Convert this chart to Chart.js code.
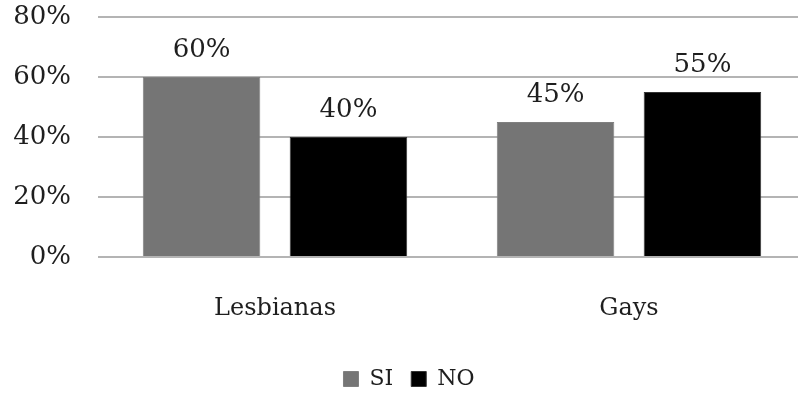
<!DOCTYPE html>
<html>
<head>
<meta charset="utf-8">
<script src="https://cdn.jsdelivr.net/npm/chart.js@4"></script>
<style>
  html, body { margin: 0; padding: 0; background: #fff; overflow: hidden; }
  #wrap { width: 806px; height: 400px; }
</style>
</head>
<body>
<div id="wrap"><canvas id="c" width="806" height="400"></canvas></div>
<script>
// Categories and series values (percent)
const categories = ['Lesbianas', 'Gays'];
const siValues = [60, 45];
const noValues = [40, 55];
const yTicks = [0, 20, 40, 60, 80];

const FONT = "'DejaVu Serif', serif";
const TEXT = '#1e1e1e';

// Writes each bar's value above it, positioned from the bar elements
const valueLabels = {
  id: 'valueLabels',
  afterDatasetsDraw(chart) {
    const ctx = chart.ctx;
    ctx.save();
    ctx.font = '26px ' + FONT;
    ctx.fillStyle = TEXT;
    ctx.textAlign = 'center';
    ctx.textBaseline = 'alphabetic';
    chart.data.datasets.forEach((ds, di) => {
      chart.getDatasetMeta(di).data.forEach((bar, i) => {
        ctx.fillText(ds.data[i] + '%', bar.x, bar.y - 20);
      });
    });
    ctx.restore();
  }
};

new Chart(document.getElementById('c'), {
  type: 'bar',
  data: {
    labels: categories,
    datasets: [
      { label: 'SI', data: siValues, backgroundColor: '#757575', borderColor: '#808080', borderWidth: 1 },
      { label: 'NO', data: noValues, backgroundColor: '#000000', borderColor: '#333333', borderWidth: 1 }
    ]
  },
  options: {
    responsive: false,
    animation: false,
    layout: { padding: { top: 17, left: 12, right: 0, bottom: 0 } },
    datasets: { bar: { categoryPercentage: 0.83, barPercentage: 0.8 } },
    plugins: {
      tooltip: { enabled: false },
      legend: {
        position: 'bottom',
        labels: {
          font: { family: FONT, size: 22 },
          color: TEXT,
          boxWidth: 15,
          boxHeight: 15,
          padding: 18
        }
      }
    },
    scales: {
      x: {
        grid: { display: false },
        border: { display: false },
        ticks: { font: { family: FONT, size: 24 }, color: TEXT, padding: 29 },
        afterFit(scale) {
          scale.height = 93;
          scale.paddingLeft = 0;
          scale.paddingRight = 0;
        }
      },
      y: {
        min: 0,
        max: 80,
        afterBuildTicks(scale) { scale.ticks = yTicks.map(v => ({ value: v })); },
        grid: { color: '#b4b4b4', lineWidth: 2, drawTicks: false },
        border: { display: false },
        ticks: {
          font: { family: FONT, size: 26 },
          color: TEXT,
          padding: 27,
          callback: v => v + '%'
        },
        afterFit(scale) {
          scale.width = 86;
          scale.paddingTop = 0;
          scale.paddingBottom = 0;
        }
      }
    }
  },
  plugins: [valueLabels]
});
</script>
</body>
</html>
